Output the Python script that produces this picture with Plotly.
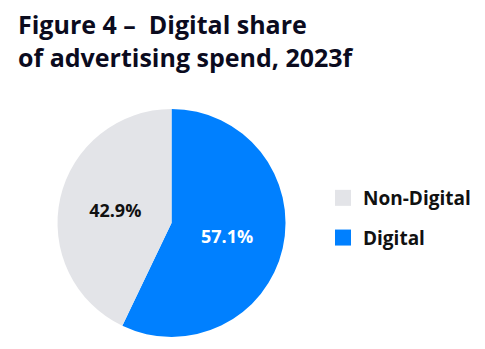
import plotly.graph_objects as go

labels = ["Non-Digital", "Digital"]
values = [42.9, 57.1]
colors = ["#E3E4E8", "#0080FF"]
text_colors = ["#111111", "#FFFFFF"]

FONT = "Open Sans"

fig = go.Figure()
# Digital drawn first, clockwise from 12 o'clock
fig.add_trace(go.Pie(
    labels=labels[::-1],
    values=values[::-1],
    sort=False,
    direction="clockwise",
    rotation=0,
    marker=dict(colors=colors[::-1], line=dict(width=0)),
    texttemplate="%{value:.1f}%",
    textposition="inside",
    insidetextorientation="horizontal",
    insidetextfont=dict(color=text_colors[::-1], size=18, family=FONT, weight="bold"),
    hoverinfo="label+percent",
    showlegend=False,
    domain=dict(x=[0.1186, 0.5887], y=[0.0344, 0.6877]),
))

# legend entries with larger square swatches
for lab, col in zip(labels, colors):
    fig.add_trace(go.Scatter(
        x=[None], y=[None], mode="markers", name=lab, legendgroup=lab,
        marker=dict(symbol="square", size=22, color=col),
        showlegend=True, hoverinfo="skip",
    ))

fig.update_layout(
    width=485, height=349,
    margin=dict(l=0, r=0, t=0, b=0),
    paper_bgcolor="white",
    plot_bgcolor="white",
    xaxis=dict(visible=False),
    yaxis=dict(visible=False),
    title=dict(
        text="Figure 4 –  Digital share<br>of advertising spend, 2023f",
        x=18/485, xanchor="left",
        y=1 - 34/349, yanchor="top",
        font=dict(family=FONT, size=25, color="#0B0B1E", weight="bold"),
    ),
    legend=dict(
        x=323/485, xanchor="left",
        y=1 - 218/349, yanchor="middle",
        font=dict(family=FONT, size=19, color="#111111", weight="bold"),
        itemwidth=30,
        tracegroupgap=12,
        itemsizing="trace",
    ),
    showlegend=True,
)

fig.write_html("out.html")
